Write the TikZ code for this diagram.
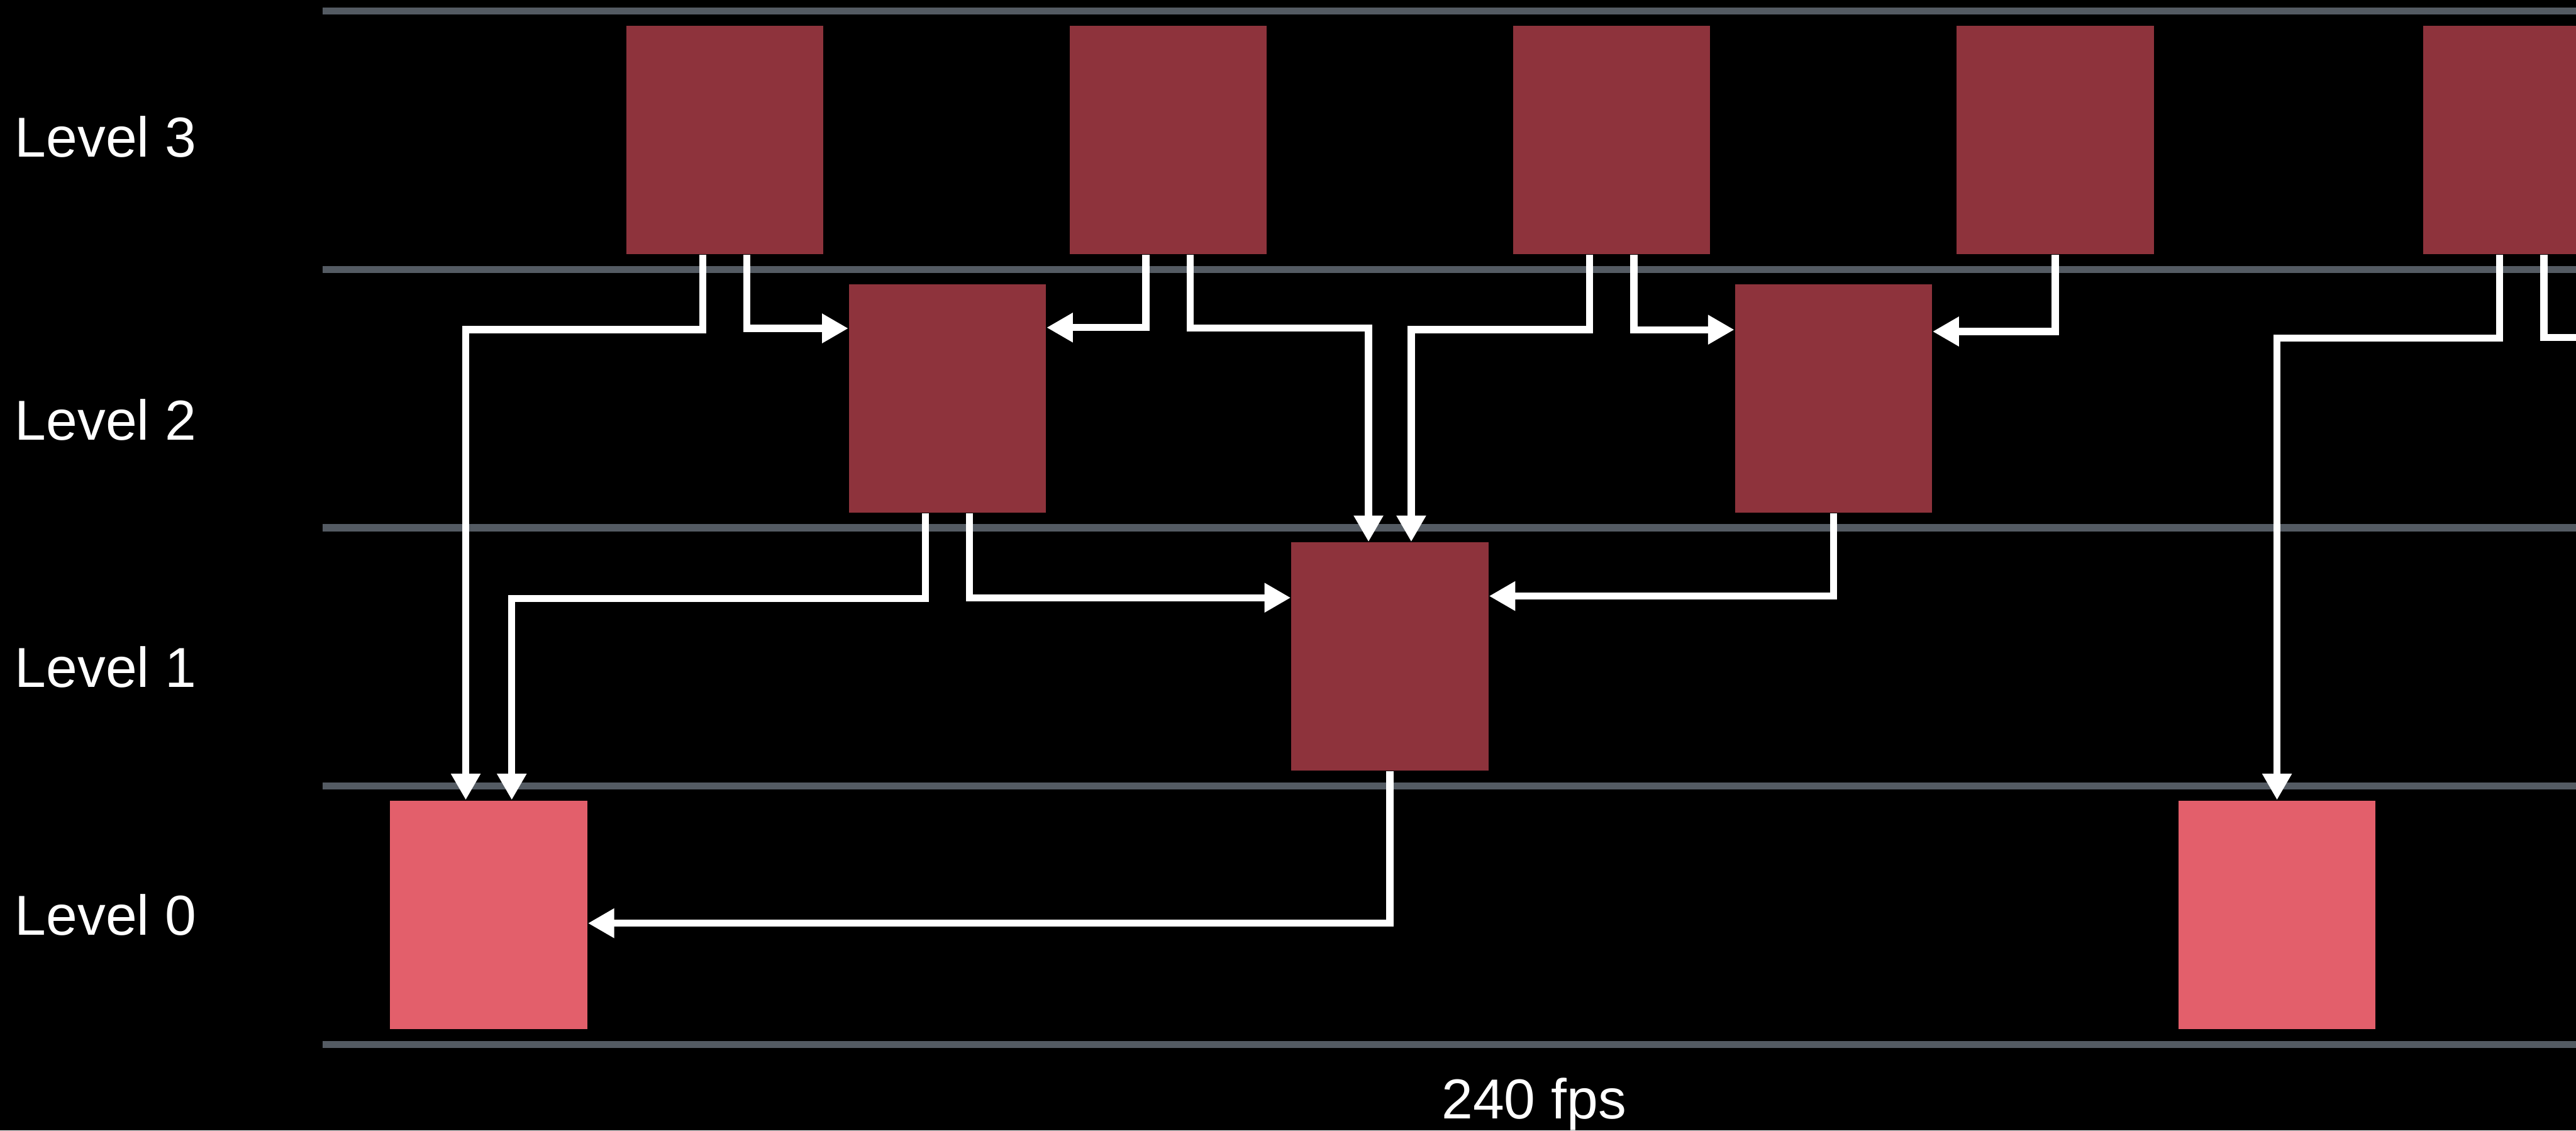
\documentclass[tikz,border=0pt]{standalone}
\usepackage{fontspec}
\setmainfont{Liberation Sans}
\usetikzlibrary{calc,arrows.meta}
\definecolor{framedark}{HTML}{8E333C}
\definecolor{framelight}{HTML}{E35F6B}
\definecolor{gridgrey}{HTML}{545B63}
\tikzset{every node/.style={font=\fontsize{19.5}{23}\selectfont,text=white},
  frame/.style={fill=framedark,draw=none,inner sep=0pt,
    minimum width=24mm,minimum height=27.8mm},
  baseframe/.style={frame,fill=framelight},
  levelline/.style={draw=gridgrey,line width=0.86mm},
  link/.style={draw=white,line width=0.86mm,
    -{Triangle[length=3.2mm,width=3.4mm]}},
  levellabel/.style={anchor=base}}

\begin{document}
\begin{tikzpicture}[x=0.2mm,y=-0.2mm]
  \path[use as bounding box] (0,0) rectangle (1568,688);
  \clip (0,0) rectangle (1568,688);
  \fill[black] (0,0) rectangle (1568,688);
  \foreach \ly in {6.7,164,321.2,478.4,635.6}
    \draw[levelline] (196.4,\ly) -- (1580,\ly);
  % level labels and rate
  \node[levellabel] (lab3) at (64.4,95.7) {Level 3};
  \node[levellabel] (lab2) at (64.4,267.9) {Level 2};
  \node[levellabel] (lab1) at (64.4,418.1) {Level 1};
  \node[levellabel] (lab0) at (64.4,569.2) {Level 0};
  \node[levellabel] (rate) at (933.7,680.9) {240 fps};
  % frames
  \node[frame] (a3) at (441.2,85.2) {};
  \node[frame] (b3) at (711,85.2) {};
  \node[frame] (c3) at (981,85.2) {};
  \node[frame] (d3) at (1251,85.2) {};
  \node[frame] (e3) at (1535,85.2) {};
  \node[frame] (a2) at (576.7,242.4) {};
  \node[frame] (b2) at (1116,242.4) {};
  \node[frame] (a1) at (846,399.6) {};
  \node[baseframe] (a0) at (297.5,556.7) {};
  \node[baseframe] (b0) at (1386,556.7) {};
  \coordinate (eout) at (1600,205.4);
  % references
  \draw[link] ($(a3.south)+(-13.5,0)$) -- ++(0,45.5) -| ($(a0.north)+(-14,0)$);
  \draw[link] ($(a3.south)+(13.5,0)$) |- ($(a2.north west)+(0,27.3)$);
  \draw[link] ($(b3.south)+(-13.5,0)$) |- ($(a2.north east)+(0,26.8)$);
  \draw[link] ($(b3.south)+(13.5,0)$) -- ++(0,44.5) -| ($(a1.north)+(-13,0)$);
  \draw[link] ($(c3.south)+(-13.5,0)$) -- ++(0,45.5) -| ($(a1.north)+(13,0)$);
  \draw[link] ($(c3.south)+(13.5,0)$) |- ($(b2.north west)+(0,28.1)$);
  \draw[link] (d3.south) |- ($(b2.north east)+(0,29.2)$);
  \draw[link] ($(e3.south)+(-13.5,0)$) -- ++(0,50.7) -| (b0.north);
  \draw[link,-] ($(e3.south)+(13.5,0)$) |- (eout);
  \draw[link] ($(a2.south)+(-13.5,0)$) -- ++(0,52) -| ($(a0.north)+(14,0)$);
  \draw[link] ($(a2.south)+(13.5,0)$) |- ($(a1.north west)+(0,34)$);
  \draw[link] (b2.south) |- ($(a1.north east)+(0,33)$);
  \draw[link] (a1.south) |- ($(a0.north east)+(0,75)$);
\end{tikzpicture}
\end{document}
